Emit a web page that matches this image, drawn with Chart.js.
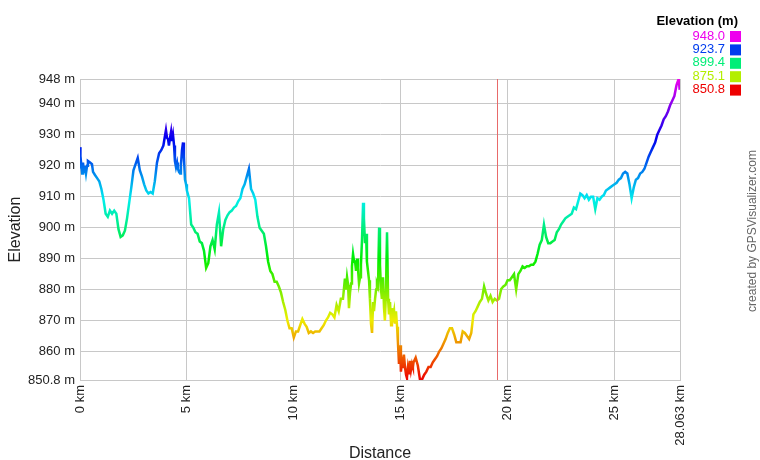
<!DOCTYPE html>
<html>
<head>
<meta charset="utf-8">
<script src="https://cdn.jsdelivr.net/npm/chart.js@4.4.1/dist/chart.umd.min.js"></script>
<style>
  html, body { margin: 0; padding: 0; background: #fff; }
  #wrap { width: 760px; height: 460px; }
</style>
</head>
<body>
<div id="wrap"><canvas id="chart" width="760" height="460"></canvas></div>
<script>
// distance along the track (km)
const distances = [
  0.0, 0.02, 0.05, 0.1, 0.14, 0.19, 0.23, 0.28, 0.33, 0.37, 0.47, 0.56, 0.61,
  0.7, 0.8, 0.9,
  1.0, 1.1, 1.2, 1.3, 1.4, 1.5, 1.6, 1.7, 1.8, 1.9,
  2.0, 2.1, 2.2, 2.3, 2.4, 2.5, 2.6, 2.7, 2.8, 2.9,
  3.0, 3.1, 3.2, 3.3, 3.4, 3.5, 3.6, 3.7, 3.8, 3.9,
  4.02, 4.07, 4.12, 4.16, 4.21, 4.26, 4.30, 4.35, 4.40, 4.44,
  4.49, 4.54, 4.58, 4.63, 4.68, 4.72, 4.77, 4.82, 4.86, 4.91, 4.96,
  5.0, 5.1, 5.2, 5.3, 5.4, 5.5, 5.6, 5.7, 5.8, 5.9,
  6.0, 6.1, 6.2, 6.3, 6.4, 6.5, 6.6, 6.7, 6.8, 6.9,
  7.0, 7.1, 7.2, 7.3, 7.4, 7.5, 7.6, 7.7, 7.8, 7.9,
  8.0, 8.1, 8.2, 8.3, 8.4, 8.5, 8.6, 8.7, 8.8, 8.9,
  9.0, 9.1, 9.2, 9.3, 9.4, 9.5, 9.6, 9.7, 9.8, 9.9,
  10.0, 10.1, 10.2, 10.3, 10.4, 10.5, 10.6, 10.7, 10.8, 10.9,
  11.0, 11.1, 11.2, 11.3, 11.4, 11.5, 11.6, 11.7, 11.8, 11.9,
  12.0, 12.1, 12.2, 12.3,
  12.39, 12.44, 12.49, 12.54, 12.58, 12.63, 12.68, 12.72, 12.77, 12.82,
  12.86, 12.91, 12.96, 13.00, 13.05, 13.10, 13.14, 13.19, 13.24, 13.28,
  13.33, 13.38, 13.42, 13.47, 13.52, 13.56, 13.61, 13.66, 13.71, 13.75,
  13.80, 13.85, 13.89, 13.94, 13.99, 14.03, 14.08, 14.12, 14.17, 14.22,
  14.26, 14.31, 14.36, 14.41, 14.45, 14.50, 14.55, 14.59, 14.64, 14.69,
  14.73, 14.78, 14.83, 14.87, 14.92, 14.97, 15.01, 15.06, 15.11, 15.15,
  15.20, 15.25, 15.29, 15.34, 15.39, 15.43, 15.48, 15.53, 15.57,
  15.6, 15.7, 15.8, 15.9,
  16.0, 16.1, 16.2, 16.3, 16.4, 16.5, 16.6, 16.7, 16.8, 16.9,
  17.0, 17.1, 17.2, 17.3, 17.4, 17.5, 17.6, 17.7, 17.8, 17.9,
  18.0, 18.1, 18.2, 18.3, 18.4, 18.5, 18.6, 18.7, 18.8, 18.9,
  19.0, 19.1, 19.2, 19.3, 19.4, 19.5, 19.6, 19.7, 19.8, 19.9,
  20.0, 20.1, 20.2, 20.3, 20.4, 20.5, 20.6, 20.7, 20.8, 20.9,
  21.0, 21.1, 21.2, 21.3, 21.4, 21.5, 21.6, 21.7, 21.8, 21.9,
  22.0, 22.1, 22.2, 22.3, 22.4, 22.5, 22.6, 22.7, 22.8, 22.9,
  23.0, 23.1, 23.2, 23.3, 23.4, 23.5, 23.6, 23.7, 23.8, 23.9,
  24.0, 24.1, 24.2, 24.3, 24.4, 24.5, 24.6, 24.7, 24.8, 24.9,
  25.0, 25.1, 25.2, 25.3, 25.4, 25.5, 25.6, 25.7, 25.8, 25.9,
  26.0, 26.1, 26.2, 26.3, 26.4, 26.5, 26.6, 26.7, 26.8, 26.9,
  27.0, 27.1, 27.2, 27.3, 27.4, 27.5, 27.6, 27.7, 27.8, 27.9,
  28.0, 28.05, 28.063
];

// elevation (m)
const elevations = [
  926, 919, 921, 917.5, 921, 918, 920, 917.5, 920, 921.5, 921, 920.5, 918,
  917, 916, 915,
  912.5, 909, 904.5, 903.5, 905.5, 904.5, 905.5, 904.5, 899.5, 897,
  897.5, 899, 903, 908, 913, 918.5, 920.5, 922.5, 918.5, 916.5,
  914, 912, 911, 911.5, 911, 915, 921, 924, 925, 926.5,
  931.5, 929, 928.5, 926.5, 929, 931, 928, 930, 926.5, 921.5,
  919.5, 921, 919, 918, 917.5, 920, 925, 927.5, 923, 915.5, 914,
  912, 909.5, 901, 900, 898.5, 898, 895.5, 895, 892.5, 887,
  888.5, 894, 896, 893, 901, 905, 894, 899.5, 902.5, 904,
  905, 905.5, 906.5, 907, 908.5, 909.5, 912.5, 914, 916.5, 919,
  912.5, 911, 909, 903.5, 900, 899, 898, 894, 889, 886,
  885, 882.5, 882.5, 881, 879, 876, 873.5, 870, 867.5, 867.5,
  864.5, 866.5, 866.5, 868.5, 870.5, 869, 868, 866, 866.5, 866,
  866.5, 866.5, 866.5, 867.5, 868.5, 870, 871, 872.5, 872, 871,
  875, 873, 877, 877,
  883.5, 880, 884, 881.5, 874, 879, 882, 887.5, 891.5, 889,
  889.5, 886, 890, 887, 882, 884, 888, 896, 908, 903,
  895, 898, 889, 886, 883, 877, 869, 866, 876, 873,
  877, 880, 882, 881, 900, 888, 880, 877, 884, 874,
  870, 879, 898.5, 877, 872, 876, 868.5, 874, 871, 873,
  869, 873, 868, 863, 856, 862, 853.5, 857, 855, 859,
  855, 852.5, 851.5, 855, 853, 857, 854, 856, 855,
  856.5, 858, 855.5, 851,
  851, 852.5, 853.5, 855, 855, 856.5, 857.5, 858.5, 860, 861,
  862.5, 864, 866, 867.5, 867.5, 865.5, 863, 863, 863, 866.5,
  866, 865, 864, 866, 872, 873, 874.5, 876, 877, 881,
  878.5, 876.5, 878, 876, 877, 876.5, 877, 880.2, 881, 881.5,
  883, 883, 884, 885, 880, 885, 886, 887.5, 887, 887.5,
  887.5, 888, 888, 889, 891.5, 894.5, 896, 901, 897, 895,
  895, 895.5, 896, 898.5, 899.5, 901, 902, 903, 903.5, 904,
  904.5, 906.5, 906, 908.5, 911, 910.5, 909.5, 910.5, 909, 910,
  910, 906, 909.5, 909, 910, 910.5, 912, 912.5, 913, 913.5,
  914, 914.5, 915.5, 916, 917.5, 918, 917.5, 914, 909.5, 913,
  915.5, 916, 917.5, 918, 919, 921, 923, 924.5, 926, 927.5,
  930, 931.5, 933, 935, 936, 937.5, 939.5, 941, 942.5, 946,
  948, 944.5
];

const xTicks = [0, 5, 10, 15, 20, 25, 28.063];
const yTicks = [850.8, 860, 870, 880, 890, 900, 910, 920, 930, 940, 948];
const legendValues = ['948.0', '923.7', '899.4', '875.1', '850.8'];
const legendHues = [300, 225, 150, 75, 0];
const markerKm = 19.5;

const yMin = 850.8;
const yMax = 948;

function hueColor(h) {
  return 'hsl(' + h + ', 100%, 46.7%)';
}

function elevationGradient(context) {
  const chart = context.chart;
  const area = chart.chartArea;
  if (!area) return hueColor(150);
  const g = chart.ctx.createLinearGradient(0, area.bottom, 0, area.top);
  for (let h = 0; h <= 300; h += 30) {
    g.addColorStop(h / 300, hueColor(h));
  }
  return g;
}

const extras = {
  id: 'extras',
  afterDatasetsDraw(chart) {
    const ctx = chart.ctx;
    const x = chart.scales.x;
    const area = chart.chartArea;
    const px = Math.round(x.getPixelForValue(markerKm)) + 0.5;
    ctx.save();
    ctx.strokeStyle = '#e86a6a';
    ctx.lineWidth = 1;
    ctx.beginPath();
    ctx.moveTo(px, area.top);
    ctx.lineTo(px, area.bottom);
    ctx.stroke();
    ctx.restore();
  },
  afterDraw(chart) {
    const ctx = chart.ctx;
    ctx.save();
    // legend
    ctx.textBaseline = 'middle';
    ctx.textAlign = 'right';
    ctx.fillStyle = '#000';
    ctx.font = 'bold 13px "Liberation Sans", Arial, sans-serif';
    ctx.fillText('Elevation (m)', 738, 21);
    ctx.font = '13px "Liberation Sans", Arial, sans-serif';
    for (let i = 0; i < legendValues.length; i++) {
      const y = 36 + i * 13.4;
      ctx.fillStyle = hueColor(legendHues[i]);
      ctx.fillText(legendValues[i], 725, y);
      ctx.fillRect(730, y - 5, 11, 11);
    }
    // credit
    ctx.translate(753, 231);
    ctx.rotate(-Math.PI / 2);
    ctx.textAlign = 'center';
    ctx.fillStyle = '#666';
    ctx.font = '12px "Liberation Sans", Arial, sans-serif';
    ctx.fillText('created by GPSVisualizer.com', 0, 0);
    ctx.restore();
  }
};

const tickFont = { family: '"Liberation Sans", Arial, sans-serif', size: 13 };
const titleFont = { family: '"Liberation Sans", Arial, sans-serif', size: 16 };

new Chart(document.getElementById('chart'), {
  type: 'line',
  data: {
    datasets: [{
      data: distances.map((d, i) => ({ x: d, y: elevations[i] })),
      borderColor: elevationGradient,
      borderWidth: 2.5,
      pointRadius: 0,
      tension: 0,
      fill: false
    }]
  },
  options: {
    responsive: false,
    animation: false,
    layout: { padding: { top: 79, right: 80, left: 0, bottom: 0 } },
    plugins: { legend: { display: false }, tooltip: { enabled: false } },
    scales: {
      x: {
        type: 'linear',
        min: 0,
        max: 28.063,
        afterBuildTicks: (s) => { s.ticks = xTicks.map(v => ({ value: v })); },
        afterFit: (s) => { s.height = 80; },
        grid: { color: '#c8c8c8', drawTicks: false },
        border: { color: '#c8c8c8' },
        ticks: {
          color: '#222',
          font: tickFont,
          padding: 5,
          minRotation: 90,
          maxRotation: 90,
          autoSkip: false,
          callback: (v) => v + ' km'
        },
        title: { display: true, text: 'Distance', color: '#222', font: titleFont, padding: { top: 0, bottom: -3 } }
      },
      y: {
        min: yMin,
        max: yMax,
        afterBuildTicks: (s) => { s.ticks = yTicks.map(v => ({ value: v })); },
        afterFit: (s) => { s.width = 80; },
        grid: { color: '#c8c8c8', drawTicks: false },
        border: { color: '#c8c8c8' },
        ticks: {
          color: '#222',
          font: tickFont,
          padding: 5,
          autoSkip: false,
          callback: (v) => v + ' m'
        },
        title: { display: true, text: 'Elevation', color: '#222', font: titleFont, padding: { top: 6, bottom: 0 } }
      }
    }
  },
  plugins: [extras]
});
</script>
</body>
</html>
